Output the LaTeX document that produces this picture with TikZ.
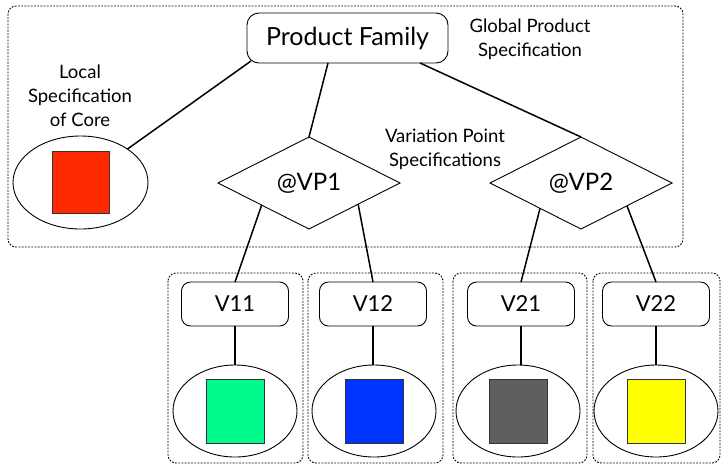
\documentclass[tikz,border=0pt]{standalone}
\usepackage{fontspec}
\setmainfont{Lato}
\usetikzlibrary{shapes.geometric,calc}
\begin{document}
\begin{tikzpicture}[x=1pt,y=-1pt,
  dbox/.style={draw, dash pattern=on 1.8pt off 1.4pt, line width=0.9pt, rounded corners=8pt},
  conn/.style={line width=1.5pt},
  rbox/.style={draw, line width=0.9pt, rounded corners=9pt, minimum width=107pt, minimum height=44pt, inner sep=0pt, outer sep=0pt, font=\fontsize{22}{24}\selectfont},
  ell/.style={draw, ellipse, line width=0.9pt, inner sep=0pt, outer sep=0pt, minimum width=124pt, minimum height=92pt},
  sq/.style={draw=black!80, line width=0.9pt, inner sep=0pt, minimum width=58pt, minimum height=64pt},
  dia/.style={draw, diamond, line width=0.9pt, minimum width=182pt, minimum height=92pt, inner sep=0pt, outer sep=0pt, font=\fontsize{24}{26}\selectfont},
  lbl/.style={align=center, font=\fontsize{18.5}{24}\selectfont}
]
\useasboundingbox (0,0) rectangle (722,464);
% dashed groups
\draw[dbox] (8,6) rectangle (683,247);
\draw[dbox] (168,273) rectangle (303,463);
\draw[dbox] (308,273) rectangle (443,463);
\draw[dbox] (453,273) rectangle (587,463);
\draw[dbox] (593,273) rectangle (720,463);
% top
\node[rbox, minimum width=201pt, minimum height=50pt, rounded corners=12pt, font=\fontsize{25}{27}\selectfont] (pf) at (347.5,38) {Product Family};
\node[lbl] (glob) at (530,39) {Global Product\\Specification};
\node[lbl] (loc) at (80,96) {Local\\Specification\\of Core};
\node[lbl] (vps) at (445,149) {Variation Point\\Specifications};
% core
\node[ell, minimum width=135pt, minimum height=93pt] (core) at (80.5,182.5) {};
\node[sq, fill={rgb,255:red,255;green,42;blue,0}, minimum width=57pt, minimum height=62pt] (coresq) at (core) {};
% variation points
\node[dia] (vp1) at (309,183) {@VP1};
\node[dia] (vp2) at (581,183) {@VP2};
% variants
\node[rbox] (v11) at (235,304) {V11};
\node[rbox] (v12) at (373,304) {V12};
\node[rbox] (v21) at (521,304) {V21};
\node[rbox] (v22) at (656,304) {V22};
\node[ell] (e11) at (235,411) {};
\node[ell] (e12) at (374,411) {};
\node[ell] (e21) at (518,411) {};
\node[ell] (e22) at (656,411) {};
\node[sq, fill={rgb,255:red,0;green,250;blue,140}] (s11) at (e11) {};
\node[sq, fill={rgb,255:red,0;green,51;blue,255}] (s12) at (e12) {};
\node[sq, fill={rgb,255:red,95;green,95;blue,95}] (s21) at (e21) {};
\node[sq, fill={rgb,255:red,255;green,255;blue,0}] (s22) at (e22) {};
% connectors
\draw[conn] ($(pf.south west)+(4,-2)$) -- (core);
\draw[conn] ($(pf.south)+(-19.5,0)$) -- (vp1.north);
\draw[conn] ($(pf.south)+(72.5,0)$) -- (vp2.north);
\draw[conn] ($(vp1.west)!0.48!(vp1.south)$) -- (v11.north);
\draw[conn] ($(vp1.south)!0.54!(vp1.east)$) -- (v12.north);
\draw[conn] ($(vp2.west)!0.55!(vp2.south)$) -- (v21.north);
\draw[conn] ($(vp2.south)!0.505!(vp2.east)$) -- (v22.north);
\draw[conn] (v11.south) -- (v11.south |- e11.north);
\draw[conn] (v12.south) -- (v12.south |- e12.north);
\draw[conn] (v21.south) -- (v21.south |- e21.north);
\draw[conn] (v22.south) -- (v22.south |- e22.north);
\end{tikzpicture}
\end{document}
